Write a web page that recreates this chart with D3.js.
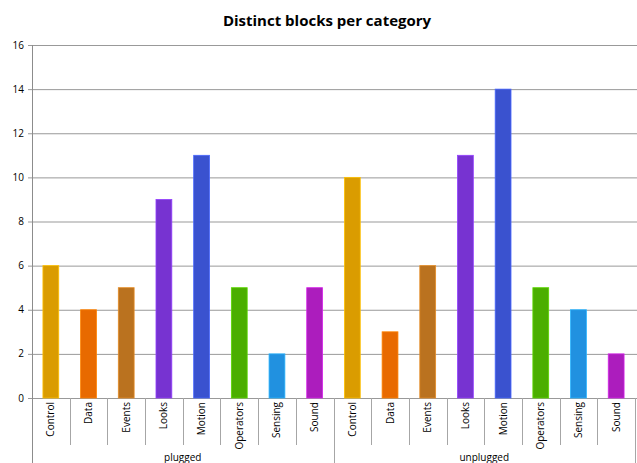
<!DOCTYPE html>
<html>
<head>
<meta charset="utf-8">
<script src="https://cdn.jsdelivr.net/npm/d3@7"></script>
<style>
  body { margin: 0; background: #fff; }
  text { font-family: "Open Sans", sans-serif; }
</style>
</head>
<body>
<svg id="chart"></svg>
<script>
const groups = ["plugged", "unplugged"];
const categories = ["Control", "Data", "Events", "Looks", "Motion", "Operators", "Sensing", "Sound"];
const pluggedValues = [6, 4, 5, 9, 11, 5, 2, 5];
const unpluggedValues = [10, 3, 6, 11, 14, 5, 4, 2];
const colors = ["#da9c00", "#e86a00", "#ba721f", "#7733d1", "#3a52cf", "#4bae00", "#2191e0", "#ac1dbd"];
const yTicks = [0, 2, 4, 6, 8, 10, 12, 14, 16];

const width = 637;
const height = 463;
const margin = { top: 45, right: 2, bottom: 65, left: 32 };

const svg = d3.select("#chart")
  .attr("width", width)
  .attr("height", height);

// flatten into one row per bar
const rows = [];
groups.forEach((g, gi) => {
  const vals = gi === 0 ? pluggedValues : unpluggedValues;
  categories.forEach((c, ci) => {
    rows.push({ key: g + "|" + c, group: g, cat: c, value: vals[ci], color: colors[ci] });
  });
});

const x = d3.scaleBand()
  .domain(rows.map(d => d.key))
  .range([margin.left, width - margin.right])
  .paddingInner(0.58)
  .paddingOuter(0.29);

const y = d3.scaleLinear()
  .domain([0, 16])
  .range([height - margin.bottom, margin.top]);

// gridlines
svg.append("g")
  .selectAll("line")
  .data(yTicks)
  .join("line")
  .attr("x1", margin.left - 4)
  .attr("x2", width)
  .attr("y1", d => y(d) + 0.5)
  .attr("y2", d => y(d) + 0.5)
  .attr("stroke", "#999")
  .attr("stroke-width", 1);

// y labels
svg.append("g")
  .selectAll("text")
  .data(yTicks)
  .join("text")
  .attr("x", 24)
  .attr("y", d => y(d) + 3.5)
  .attr("text-anchor", "end")
  .attr("font-size", 10)
  .attr("fill", "#000")
  .text(d => d);

// y axis line
svg.append("line")
  .attr("x1", margin.left + 0.5).attr("x2", margin.left + 0.5)
  .attr("y1", y(16)).attr("y2", height)
  .attr("stroke", "#8c8c8c");

// bars
svg.append("g")
  .selectAll("rect")
  .data(rows)
  .join("rect")
  .attr("x", d => x(d.key))
  .attr("y", d => y(d.value))
  .attr("width", x.bandwidth())
  .attr("height", d => y(0) - y(d.value))
  .attr("fill", d => d.color)
  .attr("stroke", d => d3.color(d.color).brighter(0.6))
  .attr("stroke-width", 0.8);

// category separators
const step = x.step();
const x0 = margin.left;
const sepIdx = d3.range(1, rows.length + 1);
svg.append("g")
  .selectAll("line")
  .data(sepIdx)
  .join("line")
  .attr("x1", i => Math.round(x0 + i * step) + 0.5)
  .attr("x2", i => Math.round(x0 + i * step) + 0.5)
  .attr("y1", y(0))
  .attr("y2", i => (i % categories.length === 0 ? height : y(0) + 47))
  .attr("stroke", "#a6a6a6");

// category labels
svg.append("g")
  .selectAll("text")
  .data(rows)
  .join("text")
  .attr("transform", d => `translate(${x(d.key) + x.bandwidth() / 2 + 3.5},${y(0) + 4}) rotate(-90)`)
  .attr("text-anchor", "end")
  .attr("font-size", 10)
  .attr("fill", "#000")
  .text(d => d.cat);

// group labels
svg.append("g")
  .selectAll("text")
  .data(groups)
  .join("text")
  .attr("x", (g, gi) => x0 + (gi + 0.5) * categories.length * step)
  .attr("y", 461)
  .attr("text-anchor", "middle")
  .attr("font-size", 10)
  .attr("fill", "#000")
  .text(d => d);

// title
svg.append("text")
  .attr("x", 327)
  .attr("y", 26)
  .attr("text-anchor", "middle")
  .attr("font-size", 15)
  .attr("font-weight", "bold")
  .attr("fill", "#000")
  .text("Distinct blocks per category");
</script>
</body>
</html>
